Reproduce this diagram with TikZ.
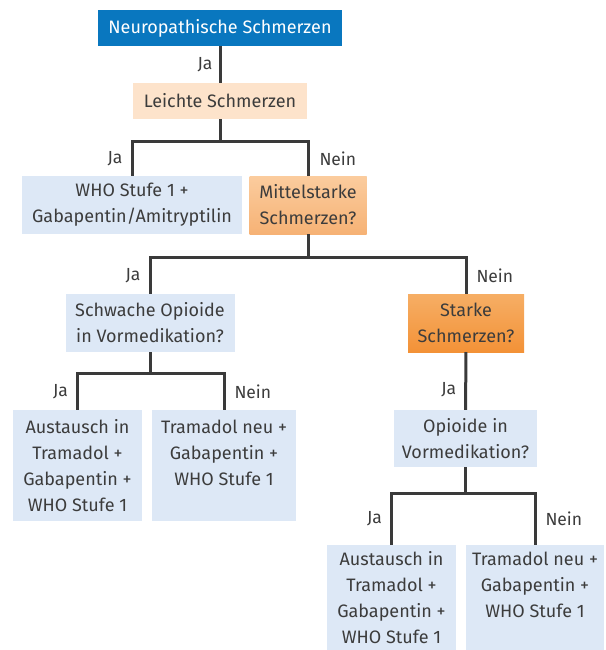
\documentclass[tikz,border=0pt]{standalone}
\usepackage{fontspec}
\setmainfont{Fira Sans}

\definecolor{headblue}{RGB}{9,119,191}
\definecolor{peach}{RGB}{253,227,203}
\definecolor{paleblue}{RGB}{221,232,246}
\definecolor{midtop}{RGB}{251,204,158}
\definecolor{midbot}{RGB}{246,178,117}
\definecolor{strongtop}{RGB}{246,174,101}
\definecolor{strongbot}{RGB}{243,146,55}
\definecolor{wire}{RGB}{58,58,58}
\definecolor{ink}{RGB}{60,60,60}

\begin{document}
\begin{tikzpicture}[x=1pt,y=-1pt,
        box/.style={fill=paleblue,text=ink,align=center,inner sep=0pt,
            font=\fontsize{18}{26}\selectfont},
        wire/.style={draw=wire,line width=3pt},
        lab/.style={text=ink,inner sep=0pt,font=\fontsize{17.5}{18}\selectfont}]

    \useasboundingbox (0,0) rectangle (605,650);

    \node[box,fill=headblue,text=white,minimum width=244,minimum height=36] (head) at (220,28) {Neuropathische Schmerzen};
    \node[box,fill=peach,minimum width=174,minimum height=36] (leicht) at (220,101) {Leichte Schmerzen};
    \node[box,minimum width=220,minimum height=58] (who) at (132,205) {WHO Stufe 1 +\\Gabapentin/Amitryptilin};
    \node[box,top color=midtop,bottom color=midbot,minimum width=117,minimum height=58] (mittel) at (308,205) {Mittelstarke\\Schmerzen?};
    \node[box,minimum width=169,minimum height=58] (schwach) at (150,323) {Schwache Opioide\\in Vormedikation?};
    \node[box,top color=strongtop,bottom color=strongbot,minimum width=116,minimum height=58] (stark) at (466,323) {Starke\\Schmerzen?};
    \node[box,minimum width=129,minimum height=111] (aust1) at (77.5,465.5) {Austausch in\\Tramadol +\\Gabapentin +\\WHO Stufe 1};
    \node[box,minimum width=144,minimum height=111] (tram1) at (224,465.5) {Tramadol neu +\\Gabapentin +\\WHO Stufe 1\\\mbox{}};
    \node[box,minimum width=143,minimum height=57] (opioid) at (465.5,438.5) {Opioide in\\Vormedikation?};
    \node[box,minimum width=129,minimum height=105] (aust2) at (391.5,597.5) {Austausch in\\Tramadol +\\Gabapentin +\\WHO Stufe 1};
    \node[box,minimum width=138,minimum height=105] (tram2) at (535,597.5) {Tramadol neu +\\Gabapentin +\\WHO Stufe 1\\\mbox{}};

    % connectors
    \draw[wire] (head) -- node[lab,left=6pt]{Ja} (leicht);
    \draw[wire] (leicht.south) -- ++(0,22) -| node[lab,pos=0.75,left=8pt]{Ja} (who.north);
    \draw[wire] (leicht.south) -- ++(0,22) -| node[lab,pos=0.75,right=10pt]{Nein} (mittel.north);
    \draw[wire] (mittel.south) -- ++(0,23) -| node[lab,pos=0.75,left=8pt]{Ja} (schwach.north);
    \draw[wire] (mittel.south) -- ++(0,23) -| node[lab,pos=0.75,right=9pt]{Nein} (stark.north);
    \draw[wire] (schwach.south) -- ++(0,21) -| node[lab,pos=0.75,left=8pt]{Ja} (aust1.north);
    \draw[wire] (schwach.south) -- ++(0,21) -| node[lab,pos=0.75,right=9pt]{Nein} (tram1.north);
    \draw[wire] (stark) -- node[lab,pos=0.65,left=8pt]{Ja} (opioid);
    \draw[wire] (opioid.south) -- ++(0,26) -| node[lab,pos=0.75,left=8pt]{Ja} (aust2.north);
    \draw[wire] (opioid.south) -- ++(0,26) -| node[lab,pos=0.75,right=9pt]{Nein} (tram2.north);
\end{tikzpicture}
\end{document}
